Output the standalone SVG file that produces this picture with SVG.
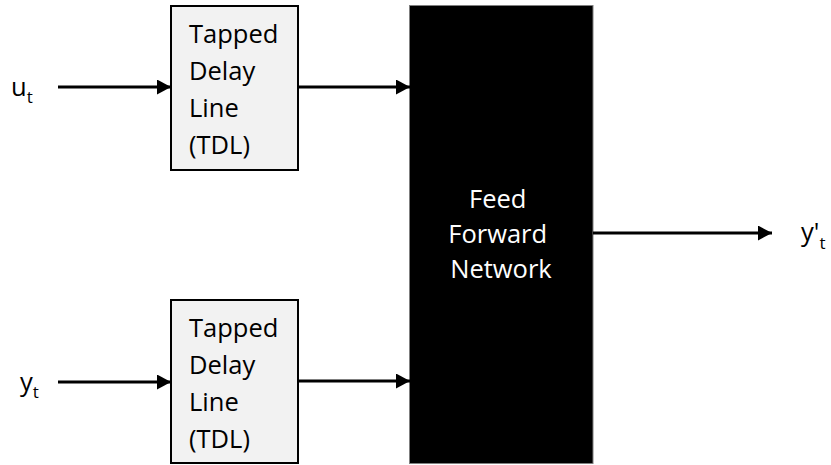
<svg xmlns="http://www.w3.org/2000/svg" width="831" height="465" viewBox="0 0 831 465">
  <defs>
    <marker id="arrow" viewBox="0 0 14 15" refX="14" refY="7.5" markerWidth="14" markerHeight="15" markerUnits="userSpaceOnUse" orient="auto">
      <path d="M0,0 L14,7.5 L0,15 Z" fill="#000"/>
    </marker>
    <style>
      .lbl { font-family: "Open Sans", "Noto Sans", "DejaVu Sans", sans-serif; font-size: 25.5px; fill: #000; }
      .sub { font-size: 17px; }
      .tdl { fill: #f2f2f2; stroke: #000; stroke-width: 2; }
      .ffn { fill: #000; stroke: #7f7f7f; stroke-width: 1; }
      .wire { stroke: #000; stroke-width: 3; fill: none; marker-end: url(#arrow); }
      .white { fill: #fff; text-anchor: middle; }
    </style>
  </defs>
  <rect width="831" height="465" fill="#fff"/>

  <!-- signal labels -->
  <g id="in-u">
    <text class="lbl" x="11" y="96">u<tspan class="sub" dy="7">t</tspan></text>
  </g>
  <g id="in-y">
    <text class="lbl" x="20" y="391">y<tspan class="sub" dy="7">t</tspan></text>
  </g>
  <g id="out-y">
    <text class="lbl" x="801" y="241">y'<tspan class="sub" dy="8">t</tspan></text>
  </g>

  <!-- delay lines -->
  <g id="tdl-top">
    <rect class="tdl" x="171" y="6" width="127" height="164"/>
    <text class="lbl">
      <tspan x="189" y="43">Tapped</tspan>
      <tspan x="189" y="80">Delay</tspan>
      <tspan x="189" y="117">Line</tspan>
      <tspan x="189" y="154">(TDL)</tspan>
    </text>
  </g>
  <g id="tdl-bottom">
    <rect class="tdl" x="171" y="300" width="127" height="163"/>
    <text class="lbl">
      <tspan x="189" y="337">Tapped</tspan>
      <tspan x="189" y="374">Delay</tspan>
      <tspan x="189" y="411">Line</tspan>
      <tspan x="189" y="448">(TDL)</tspan>
    </text>
  </g>

  <!-- network block -->
  <g id="ffn">
    <rect class="ffn" x="409.5" y="5.5" width="183.5" height="458"/>
    <text class="lbl white">
      <tspan x="501" y="208">Feed</tspan>
      <tspan x="501" y="243">Forward</tspan>
      <tspan x="501" y="278">Network</tspan>
    </text>
  </g>

  <!-- connectors -->
  <g id="connectors">
    <line class="wire" x1="58" y1="87" x2="171" y2="87"/>
    <line class="wire" x1="298" y1="87" x2="410" y2="87"/>
    <line class="wire" x1="58" y1="382" x2="171" y2="382"/>
    <line class="wire" x1="298" y1="381" x2="410" y2="381"/>
    <line class="wire" x1="593" y1="233" x2="772" y2="233"/>
  </g>
</svg>
